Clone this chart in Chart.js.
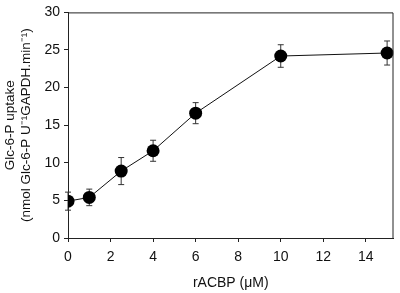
<!DOCTYPE html>
<html>
<head>
<meta charset="utf-8">
<script src="https://cdn.jsdelivr.net/npm/chart.js@4.4.1/dist/chart.umd.min.js"></script>
<style>
html,body{margin:0;padding:0;background:#fff;}
#wrap{width:400px;height:293px;position:relative;}
</style>
</head>
<body>
<div id="wrap"><canvas id="c" width="400" height="293"></canvas></div>
<script>
const concentrations = [0, 1, 2.5, 4, 6, 10, 15];
const uptake = [4.9, 5.4, 8.9, 11.6, 16.6, 24.2, 24.6];
const uptakeErr = [1.2, 1.1, 1.8, 1.4, 1.4, 1.5, 1.6];
const xTicks = [0, 2, 4, 6, 8, 10, 12, 14];
const yTicks = [0, 5, 10, 15, 20, 25, 30];
const xTitle = 'rACBP (\u03BCM)';
const yTitle = ['Glc-6-P uptake', '(nmol Glc-6-P U\u207B\u00B9GAPDH.min\u207B\u00B9)'];

const FONT = 'Liberation Sans, Arial, sans-serif';

const errorBars = {
  id: 'errorBars',
  beforeDatasetsDraw(chart) {
    const ctx = chart.ctx, xs = chart.scales.x, ys = chart.scales.y;
    ctx.save();
    ctx.strokeStyle = '#333';
    ctx.lineWidth = 1;
    concentrations.forEach((c, i) => {
      const px = xs.getPixelForValue(c);
      const top = ys.getPixelForValue(uptake[i] + uptakeErr[i]);
      const bot = ys.getPixelForValue(uptake[i] - uptakeErr[i]);
      ctx.beginPath();
      ctx.moveTo(px, top); ctx.lineTo(px, bot);
      ctx.moveTo(px - 3, top); ctx.lineTo(px + 3, top);
      ctx.moveTo(px - 3, bot); ctx.lineTo(px + 3, bot);
      ctx.stroke();
    });
    ctx.restore();
  }
};

const frame = {
  id: 'frame',
  afterDraw(chart) {
    const a = chart.chartArea, ctx = chart.ctx;
    ctx.save();
    ctx.strokeStyle = '#222';
    ctx.lineWidth = 1;
    ctx.beginPath();
    ctx.moveTo(a.left, a.top + 0.5); ctx.lineTo(a.right - 0.5, a.top + 0.5); ctx.lineTo(a.right - 0.5, a.bottom);
    ctx.stroke();
    ctx.restore();
  }
};

new Chart(document.getElementById('c'), {
  type: 'scatter',
  data: {
    datasets: [{
      data: concentrations.map((c, i) => ({x: c, y: uptake[i]})),
      showLine: true,
      borderColor: '#111',
      borderWidth: 1,
      pointRadius: 6.5,
      pointBackgroundColor: '#000',
      pointBorderColor: '#000',
      pointBorderWidth: 0
    }]
  },
  options: {
    responsive: false,
    animation: false,
    devicePixelRatio: 1,
    layout: {padding: {top: 7, right: 4, left: 0, bottom: 0}},
    plugins: {legend: {display: false}, tooltip: {enabled: false}},
    scales: {
      x: {
        type: 'linear', min: 0, max: 15.3,
        afterBuildTicks: s => { s.ticks = xTicks.map(v => ({value: v})); },
        afterFit: s => { s.height = 55; },
        grid: {drawOnChartArea: false, drawTicks: true, tickLength: 4, color: '#222'},
        border: {display: true, color: '#222', width: 1},
        ticks: {font: {family: FONT, size: 14}, color: '#111', padding: 7, maxRotation: 0},
        title: {display: true, text: xTitle, font: {family: FONT, size: 14}, color: '#111', padding: {top: 6, bottom: 1}}
      },
      y: {
        type: 'linear', min: 0, max: 30,
        afterBuildTicks: s => { s.ticks = yTicks.map(v => ({value: v})); },
        afterFit: s => { s.width = 68; },
        grid: {drawOnChartArea: false, drawTicks: true, tickLength: 4, color: '#222'},
        border: {display: true, color: '#222', width: 1},
        ticks: {font: {family: FONT, size: 14}, color: '#111', padding: 4},
        title: {display: true, text: yTitle, font: {family: FONT, size: 13.5, lineHeight: 1.2}, color: '#111', padding: {top: 2, bottom: 2}}
      }
    }
  },
  plugins: [errorBars, frame]
});
</script>
</body>
</html>
